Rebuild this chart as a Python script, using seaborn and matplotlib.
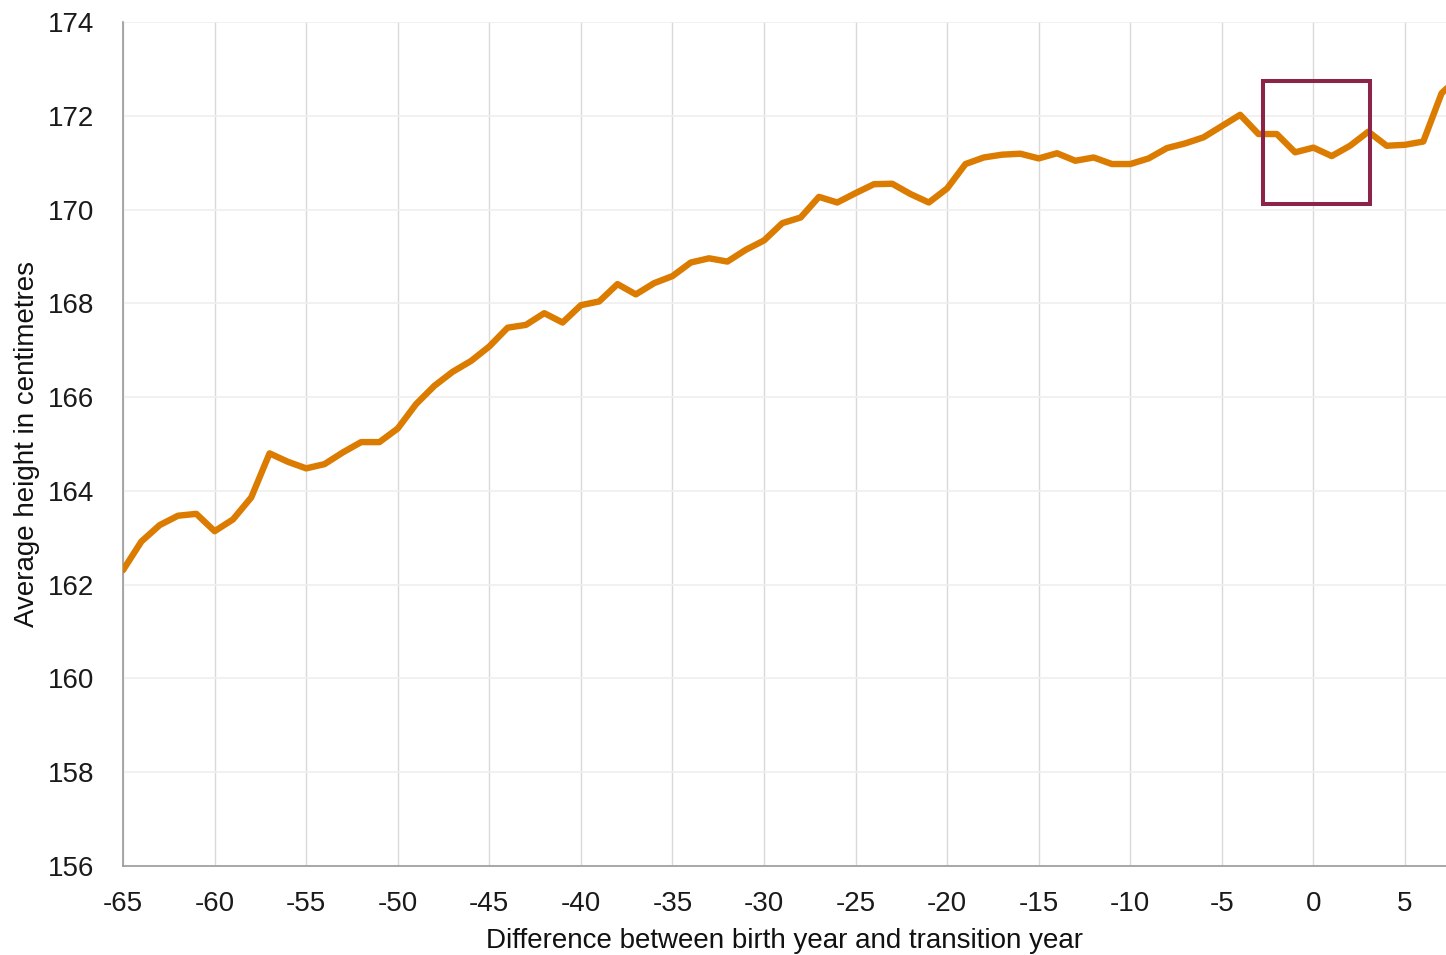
import numpy as np
import pandas as pd
import seaborn as sns
import matplotlib.pyplot as plt
from matplotlib.patches import Rectangle

# difference between birth year and transition year
years = list(range(-65, 9))
heights = [
    162.31, 162.92, 163.27, 163.47, 163.51, 163.14, 163.39, 163.86, 164.80, 164.62,  # -65..-56
    164.48, 164.57, 164.82, 165.04, 165.04, 165.33, 165.85, 166.24, 166.54, 166.77,  # -55..-46
    167.08, 167.48, 167.54, 167.79, 167.59, 167.96, 168.04, 168.41, 168.19, 168.43,  # -45..-36
    168.58, 168.87, 168.96, 168.89, 169.14, 169.34, 169.71, 169.83, 170.27, 170.15,  # -35..-26
    170.35, 170.54, 170.55, 170.33, 170.15, 170.45, 170.97, 171.11, 171.17, 171.19,  # -25..-16
    171.09, 171.20, 171.04, 171.11, 170.97, 170.97, 171.09, 171.31, 171.41, 171.54,  # -15..-6
    171.78, 172.02, 171.61, 171.61, 171.22, 171.32, 171.14, 171.36, 171.66, 171.36,  # -5..4
    171.38, 171.45, 172.48, 172.85,                                                  # 5..8
]
x_ticks = [-65, -60, -55, -50, -45, -40, -35, -30, -25, -20, -15, -10, -5, 0, 5]
y_ticks = [156, 158, 160, 162, 164, 166, 168, 170, 172, 174]

# highlighted window around the transition year
box_x = (-2.74, 3.09)
box_y = (170.12, 172.74)

df = pd.DataFrame({"diff": years, "height": heights})

sns.set_style("white")
plt.rcParams["font.family"] = ["Liberation Sans", "DejaVu Sans"]
plt.rcParams["axes.unicode_minus"] = False

fig = plt.figure(figsize=(14.46, 9.55), dpi=100)
ax = fig.add_axes([0.0851, 0.0932, 0.9149, 0.8838])

sns.lineplot(data=df, x="diff", y="height", color="#DB7B00", linewidth=4.6,
             ax=ax, zorder=3)

ax.add_patch(Rectangle((box_x[0], box_y[0]), box_x[1] - box_x[0], box_y[1] - box_y[0],
                       fill=False, edgecolor="#8C2349", linewidth=2.9, zorder=4,
                       clip_on=False))

ax.set_xlim(-65, 7.24)
ax.set_ylim(156, 174)
ax.set_xticks(x_ticks)
ax.set_yticks(y_ticks)

ax.grid(axis="x", color="#d9d9d9", linewidth=1)
ax.grid(axis="y", color="#efefef", linewidth=1.2)
ax.set_axisbelow(True)

for side in ["top", "right"]:
    ax.spines[side].set_visible(False)
for side in ["left", "bottom"]:
    ax.spines[side].set_color("#9a9a9a")
    ax.spines[side].set_linewidth(1.2)

ax.tick_params(axis="both", which="both", length=9, width=1.2, color="#9a9a9a",
               labelsize=20, labelcolor="#1a1a1a")
ax.tick_params(axis="x", direction="out", pad=9)
ax.tick_params(axis="y", direction="out", pad=12)

ax.set_xlabel("Difference between birth year and transition year", fontsize=20,
              color="#111111", labelpad=8)
ax.set_ylabel("Average height in centimetres", fontsize=20, color="#111111",
              labelpad=5)

fig.savefig("out.png", dpi=100)
